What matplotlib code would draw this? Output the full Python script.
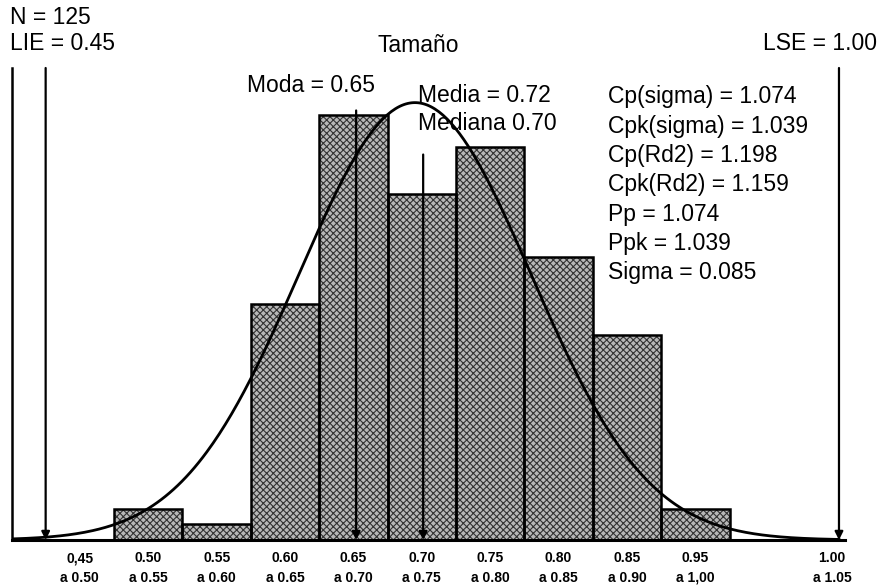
import numpy as np
import matplotlib
matplotlib.use("Agg")
import matplotlib.pyplot as plt


# histogram data
N = 125
BIN_WIDTH = 0.05
bin_starts = [0.50, 0.55, 0.60, 0.65, 0.70, 0.75, 0.80, 0.85, 0.90]
counts = [2, 1, 15, 27, 22, 25, 18, 13, 2]

tick_pos = [0.475, 0.525, 0.575, 0.625, 0.675, 0.725, 0.775, 0.825, 0.875, 0.925, 1.025]
tick_labels = [
    "0,45\na 0.50", "0.50\na 0.55", "0.55\na 0.60", "0.60\na 0.65",
    "0.65\na 0.70", "0.70\na 0.75", "0.75\na 0.80", "0.80\na 0.85",
    "0.85\na 0.90", "0.95\na 1,00", "1.00\na 1.05",
]

MEAN = 0.72
SIGMA = 0.085
CURVE_PEAK = 27.8

LIE = 0.45
LSE_POS = 1.03
MODE_POS = 0.677
MEDIAN_POS = 0.726
MODE_TOP = 27.3
MEDIAN_TOP = 24.5

stats_lines = [
    "Cp(sigma) = 1.074",
    "Cpk(sigma) = 1.039",
    "Cp(Rd2) = 1.198",
    "Cpk(Rd2) = 1.159",
    "Pp = 1.074",
    "Ppk = 1.039",
    "Sigma = 0.085",
]

W, H = 881, 587
FONT = "Liberation Sans"
plt.rcParams["font.family"] = [FONT, "DejaVu Sans"]
plt.rcParams["hatch.linewidth"] = 0.8


def fx(px):
    return px / W


def fy(py):
    return 1 - py / H


fig = plt.figure(figsize=(W / 100, H / 100), dpi=100)
ax = fig.add_axes([fx(12), fy(540), fx(845) - fx(12), fy(68) - fy(540)])

x0, x1 = 0.4254, 1.0344
ax.set_xlim(x0, x1)
ax.set_ylim(0, 30)

# bars: hatched gray fill, then black outline
ax.bar(bin_starts, counts, width=BIN_WIDTH, align="edge",
       color="#b8b8b8", edgecolor="#333333", hatch="xxxxx", linewidth=0, zorder=1)
ax.bar(bin_starts, counts, width=BIN_WIDTH, align="edge",
       fill=False, edgecolor="black", linewidth=1.8, zorder=2)

# fitted normal curve
xs = np.linspace(x0, LSE_POS, 400)
ys = CURVE_PEAK * np.exp(-0.5 * ((xs - MEAN) / SIGMA) ** 2)
ax.plot(xs, ys, color="black", linewidth=2.0, zorder=4)

# reference arrows
arrow = dict(arrowstyle="-|>", color="black", linewidth=1.6, mutation_scale=12,
             shrinkA=0, shrinkB=0)
for xpos, top in [(LIE, 30), (MODE_POS, MODE_TOP), (MEDIAN_POS, MEDIAN_TOP), (LSE_POS, 30)]:
    ax.annotate("", xy=(xpos, 0), xytext=(xpos, top), arrowprops=arrow, zorder=5)

for side in ["top", "right"]:
    ax.spines[side].set_visible(False)
ax.spines["left"].set_linewidth(1.8)
ax.spines["bottom"].set_linewidth(2.2)
ax.set_yticks([])
ax.set_xticks(tick_pos)
ax.set_xticklabels(tick_labels, fontsize=10, fontweight="bold", linespacing=1.5)
ax.tick_params(axis="x", length=0, pad=8)

# annotations
txt = dict(fontsize=16.5, va="center")
fig.text(fx(10), fy(17), f"N = {N}", ha="left", **txt)
fig.text(fx(10), fy(43), f"LIE = {LIE:.2f}", ha="left", **txt)
fig.text(fx(418), fy(45), "Tamaño", ha="center", **txt)
fig.text(fx(877), fy(43), "LSE = 1.00", ha="right", **txt)
fig.text(fx(247), fy(85), "Moda = 0.65", ha="left", **txt)
fig.text(fx(418), fy(95), "Media = 0.72", ha="left", **txt)
fig.text(fx(418), fy(124), "Mediana 0.70", ha="left", **txt)
for i, line in enumerate(stats_lines):
    fig.text(fx(608), fy(97 + i * 29.3), line, ha="left", **txt)

fig.savefig("out.png", dpi=100)
